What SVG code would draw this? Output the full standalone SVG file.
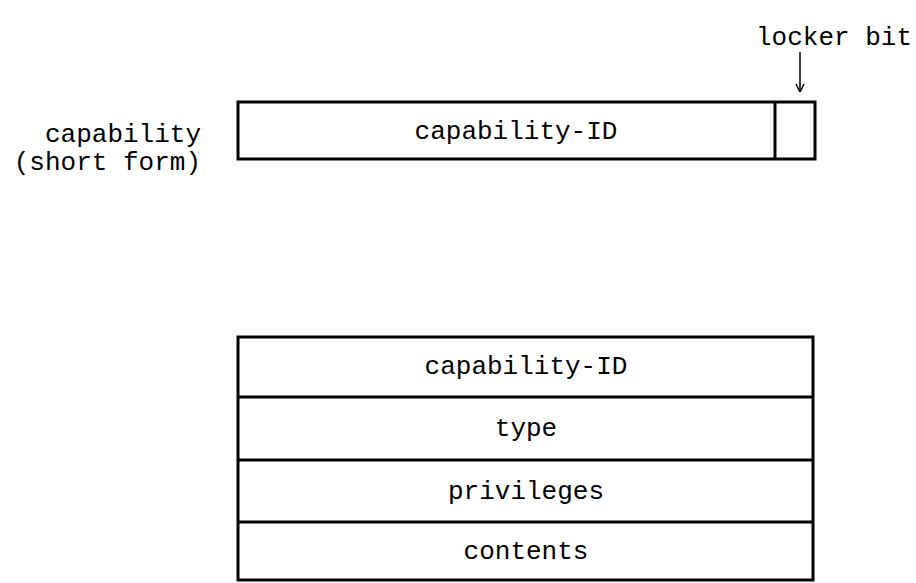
<svg xmlns="http://www.w3.org/2000/svg" width="916" height="583" viewBox="0 0 916 583">
<style>
.t{font-family:"Liberation Mono","DejaVu Sans Mono",monospace;font-size:26px;fill:#000}
.c{text-anchor:middle}
.r{text-anchor:end}
.box{fill:#fff;stroke:#000;stroke-width:3}
.ln{stroke:#000;stroke-width:3;fill:none}
</style>
<defs>
<marker id="ah" viewBox="0 0 10 10" refX="10" refY="5" markerWidth="10" markerHeight="10" markerUnits="userSpaceOnUse" orient="auto">
<path d="M2,1 L10,5 L2,9" fill="none" stroke="#000" stroke-width="1.5"/>
</marker>
</defs>
<rect width="916" height="583" fill="#fff"/>
<g id="short-form-label">
<text class="t r" x="201" y="142">capability</text>
<text class="t r" x="201" y="170">(short form)</text>
</g>
<g id="short-form">
<rect class="box" x="238" y="102" width="577" height="57"/>
<line class="ln" x1="775" y1="102" x2="775" y2="159"/>
<text class="t c" x="516" y="139">capability-ID</text>
</g>
<g id="locker-bit-label">
<text class="t r" x="912" y="45">locker bit</text>
</g>
<g id="connectors">
<line x1="800" y1="52" x2="800" y2="92" stroke="#000" stroke-width="1.5" marker-end="url(#ah)"/>
</g>
<g id="long-form">
<rect class="box" x="238" y="337" width="575" height="243"/>
<line class="ln" x1="238" y1="397" x2="813" y2="397"/>
<line class="ln" x1="238" y1="460" x2="813" y2="460"/>
<line class="ln" x1="238" y1="522" x2="813" y2="522"/>
<text class="t c" x="526" y="374">capability-ID</text>
<text class="t c" x="526" y="436">type</text>
<text class="t c" x="526" y="499">privileges</text>
<text class="t c" x="526" y="559">contents</text>
</g>
</svg>
